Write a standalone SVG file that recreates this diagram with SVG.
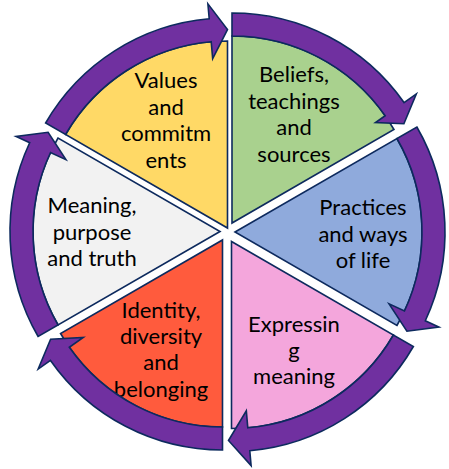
<svg xmlns="http://www.w3.org/2000/svg" width="449" height="469" viewBox="0 0 449 469">
<style>
.sec{stroke:#0d2a5e;stroke-width:1.6;stroke-linejoin:miter}
.arr{fill:#7030a0;stroke:#0d2a5e;stroke-width:1.6;stroke-linejoin:miter}
.t{font-family:Lato,"Liberation Sans",sans-serif;font-size:22px;fill:#000;text-anchor:middle}
</style>
<rect width="449" height="469" fill="#fff"/>
<g id="values">
<path class="sec" fill="#ffd966" d="M227.5,228 L227.5,41 A187,187 0 0 0 65.56,134.5 Z"/>
<text class="t"><tspan x="166" y="88">Values</tspan><tspan x="166" y="114.5">and</tspan><tspan x="166" y="141">commitm</tspan><tspan x="166" y="167.5">ents</tspan></text>
</g>
<g id="beliefs">
<path class="sec" fill="#a9d18e" d="M232,223 L232,36 A187,187 0 0 1 393.94,129.5 Z"/>
<text class="t"><tspan x="294" y="82">Beliefs,</tspan><tspan x="294" y="108.5">teachings</tspan><tspan x="294" y="135">and</tspan><tspan x="294" y="161.5">sources</tspan></text>
</g>
<g id="practices">
<path class="sec" fill="#8faadc" d="M235,232 L396.94,138.5 A187,187 0 0 1 396.94,325.5 Z"/>
<text class="t"><tspan x="363" y="215">Practices</tspan><tspan x="363" y="241.5">and ways</tspan><tspan x="363" y="268">of life</tspan></text>
</g>
<g id="expressing">
<path class="sec" fill="#f4a6dc" d="M231.5,241.5 L393.44,335 A187,187 0 0 1 231.5,428.5 Z"/>
<text class="t"><tspan x="294" y="331.5">Expressin</tspan><tspan x="294" y="357.5">g</tspan><tspan x="294" y="383.5">meaning</tspan></text>
</g>
<g id="identity">
<path class="sec" fill="#ff5b3d" d="M222.5,240 L222.5,427 A187,187 0 0 1 60.56,333.5 Z"/>
<text class="t"><tspan x="161" y="318">Identity,</tspan><tspan x="161" y="344">diversity</tspan><tspan x="161" y="370">and</tspan><tspan x="161" y="396.5">belonging</tspan></text>
</g>
<g id="meaning">
<path class="sec" fill="#f2f2f2" d="M220,231.5 L58.06,325 A187,187 0 0 1 58.06,138 Z"/>
<text class="t"><tspan x="92" y="213">Meaning,</tspan><tspan x="92" y="239.5">purpose</tspan><tspan x="92" y="266">and truth</tspan></text>
</g>
<g id="connectors">
<path class="arr" d="M45.63,123 A210,210 0 0 1 209.2,18.8 L207.89,3.86 L227.5,29.5 L212.68,58.65 L211.2,41.71 A187,187 0 0 0 65.56,134.5 Z"/>
<path class="arr" d="M232,13 A210,210 0 0 1 404.02,102.55 L416.31,93.94 L403.9,123.75 L375.5,122.5 L385.18,115.74 A187,187 0 0 0 232,36 Z"/>
<path class="arr" d="M416.87,127 A210,210 0 0 1 425.33,320.75 L438.92,327.09 L406.9,331.25 L389.07,303.85 L404.48,311.03 A187,187 0 0 0 396.94,138.5 Z"/>
<path class="arr" d="M413.37,346.5 A210,210 0 0 1 249.8,450.7 L251.11,465.64 L228.5,440.5 L246.32,410.85 L247.8,427.79 A187,187 0 0 0 393.44,335 Z"/>
<path class="arr" d="M222.5,450 A210,210 0 0 1 50.48,360.45 L38.19,369.06 L50.6,339.25 L83.24,337.51 L69.32,347.26 A187,187 0 0 0 222.5,427 Z"/>
<path class="arr" d="M38.13,336.5 A210,210 0 0 1 29.67,142.75 L16.08,136.41 L48.1,132.25 L65.93,159.65 L50.52,152.47 A187,187 0 0 0 58.06,325 Z"/>
</g>
</svg>
